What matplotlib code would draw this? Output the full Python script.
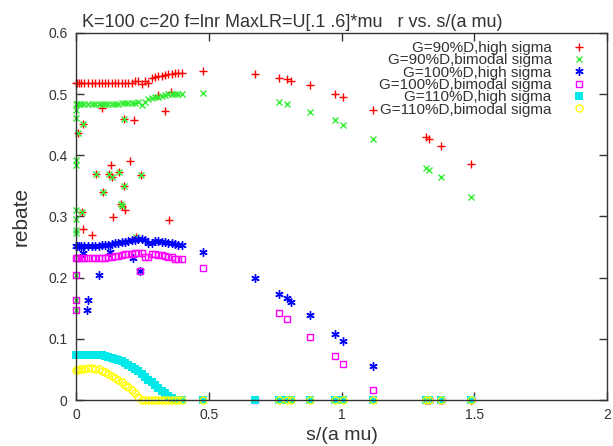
import numpy as np
import matplotlib
matplotlib.use("Agg")
import matplotlib.pyplot as plt

plt.rcParams['font.family'] = ['Liberation Sans', 'DejaVu Sans']

title = "K=100 c=20 f=lnr MaxLR=U[.1 .6]*mu   r vs. s/(a mu)"
labels = ["G=90%D,high sigma", "G=90%D,bimodal sigma", "G=100%D,high sigma",
          "G=100%D,bimodal sigma", "G=110%D,high sigma", "G=110%D,bimodal sigma"]

# dense band of s values
s_band = [0.0, 0.005, 0.01, 0.02, 0.03, 0.045, 0.06, 0.072, 0.085, 0.097, 0.11, 0.122,
          0.135, 0.147, 0.16, 0.172, 0.185, 0.197, 0.21, 0.222, 0.235, 0.248, 0.26, 0.273,
          0.285, 0.298, 0.31, 0.323, 0.335, 0.348, 0.36, 0.373, 0.385, 0.398]
red_band = [0.518, 0.518, 0.518, 0.518, 0.518, 0.518, 0.518, 0.518, 0.518, 0.518, 0.518, 0.518,
            0.518, 0.518, 0.518, 0.518, 0.518, 0.518, 0.518, 0.521, 0.522, 0.517, 0.522, 0.519,
            0.527, 0.528, 0.529, 0.530, 0.531, 0.533, 0.533, 0.534, 0.534, 0.535]
green_band = [0.484, 0.484, 0.484, 0.484, 0.484, 0.484, 0.484, 0.484, 0.484, 0.484, 0.484, 0.484,
              0.484, 0.484, 0.484, 0.485, 0.485, 0.485, 0.486, 0.486, 0.488, 0.483, 0.487, 0.492,
              0.494, 0.495, 0.496, 0.497, 0.498, 0.500, 0.500, 0.501, 0.501, 0.501]
blue_band = [0.251, 0.251, 0.251, 0.251, 0.251, 0.251, 0.252, 0.252, 0.252, 0.253, 0.253, 0.254,
             0.255, 0.256, 0.257, 0.258, 0.259, 0.260, 0.261, 0.262, 0.263, 0.263, 0.262, 0.257,
             0.256, 0.260, 0.260, 0.259, 0.258, 0.257, 0.256, 0.255, 0.254, 0.253]
mag_band = [0.232, 0.232, 0.232, 0.232, 0.232, 0.232, 0.232, 0.232, 0.232, 0.232, 0.232, 0.233,
            0.234, 0.235, 0.236, 0.237, 0.238, 0.238, 0.239, 0.240, 0.240, 0.240, 0.233, 0.233,
            0.238, 0.238, 0.237, 0.237, 0.235, 0.234, 0.233, 0.231, 0.230, 0.230]
cyan_band = [0.073, 0.073, 0.073, 0.073, 0.073, 0.073, 0.073, 0.073, 0.073, 0.073, 0.072, 0.071,
             0.069, 0.067, 0.065, 0.063, 0.060, 0.057, 0.054, 0.050, 0.047, 0.043, 0.038, 0.033,
             0.029, 0.024, 0.020, 0.015, 0.011, 0.007, 0.003, 0.0, 0.0, 0.0]
yel_band = [0.049, 0.049, 0.050, 0.050, 0.051, 0.052, 0.052, 0.051, 0.050, 0.048, 0.045, 0.042,
            0.039, 0.036, 0.033, 0.029, 0.025, 0.021, 0.016, 0.011, 0.005, 0.0, 0.0, 0.0,
            0.0, 0.0, 0.0, 0.0, 0.0, 0.0, 0.0, 0.0, 0.0, 0.0]

# sparse tail of s values
s_tail = [0.48, 0.675, 0.766, 0.796, 0.811, 0.883, 0.977, 1.007, 1.12, 1.317, 1.33, 1.374, 1.487]
red_tail = [0.538, 0.533, 0.527, 0.525, 0.522, 0.515, 0.500, 0.495, 0.474, 0.430, 0.426, 0.416, 0.386]
blue_tail = [0.242, 0.199, 0.173, 0.167, 0.160, 0.139, 0.108, 0.096, 0.055, 0.0, 0.0, 0.0, 0.0]
cyan_tail = [0.0, 0.0, 0.0, 0.0, 0.0, 0.0, 0.0, 0.0, 0.0, 0.0, 0.0, 0.0, 0.0]
s_tail_g = [0.48, 0.766, 0.796, 0.883, 0.977, 1.007, 1.12, 1.317, 1.33, 1.374, 1.487]
green_tail = [0.502, 0.487, 0.484, 0.471, 0.457, 0.450, 0.427, 0.380, 0.376, 0.365, 0.332]
s_tail_m = [0.48, 0.675, 0.766, 0.796, 0.883, 0.977, 1.007, 1.12, 1.317, 1.33, 1.374, 1.487]
mag_tail = [0.216, 0.0, 0.142, 0.132, 0.103, 0.072, 0.059, 0.016, 0.0, 0.0, 0.0, 0.0]
s_tail_y = [0.48, 0.766, 0.796, 0.811, 0.883, 0.977, 1.007, 1.12, 1.317, 1.33, 1.374, 1.487]
yel_tail = [0.0, 0.0, 0.0, 0.0, 0.0, 0.0, 0.0, 0.0, 0.0, 0.0, 0.0, 0.0]

# scattered low points near s=0
red_out_s = [0.009, 0.028, 0.097, 0.179, 0.219, 0.307, 0.334, 0.359, 0.131, 0.204, 0.075, 0.126,
             0.135, 0.161, 0.244, 0.181, 0.100, 0.169, 0.172, 0.186, 0.138, 0.352, 0.021, 0.028,
             0.062, 0.226]
red_out_r = [0.436, 0.452, 0.478, 0.460, 0.458, 0.498, 0.473, 0.504, 0.385, 0.390, 0.369, 0.369,
             0.365, 0.372, 0.368, 0.350, 0.340, 0.321, 0.317, 0.311, 0.299, 0.294, 0.308, 0.279,
             0.269, 0.267]
green_out_s = [0.009, 0.028, 0.179, 0.0, 0.0, 0.0, 0.0, 0.0, 0.0, 0.0, 0.0, 0.0, 0.0, 0.0,
               0.075, 0.126, 0.135, 0.161, 0.244, 0.181, 0.100, 0.169, 0.172, 0.021, 0.226]
green_out_r = [0.436, 0.452, 0.460, 0.474, 0.461, 0.392, 0.385, 0.311, 0.296, 0.278, 0.273,
               0.204, 0.163, 0.147, 0.369, 0.369, 0.365, 0.372, 0.368, 0.350, 0.340, 0.321,
               0.317, 0.308, 0.267]
blue_out_s = [0.025, 0.047, 0.043, 0.088, 0.128, 0.214, 0.242]
blue_out_r = [0.241, 0.163, 0.147, 0.204, 0.242, 0.232, 0.211]
mag_out_s = [0.0, 0.0, 0.0, 0.242]
mag_out_r = [0.204, 0.163, 0.147, 0.211]

fig = plt.figure(figsize=(6.13, 4.46), dpi=100)
ax = fig.add_axes([76 / 613, 1 - 400 / 446, 531 / 613, 367 / 446])

red, green, blue = '#ff0000', '#33ee33', '#0000ff'
mag, cyan, yel = '#ff00ff', '#00e8e8', '#ffff00'
ms = 6

def pts(xs, ys):
    return np.array(xs, dtype=float), np.array(ys, dtype=float)

x, y = pts(s_band + s_tail + red_out_s, red_band + red_tail + red_out_r)
ax.plot(x, y, ls='none', marker='+', ms=ms, mew=1.0, color=red, label=labels[0], clip_on=False)
x, y = pts(s_band + s_tail_g + green_out_s, green_band + green_tail + green_out_r)
ax.plot(x, y, ls='none', marker='x', ms=ms - 1, mew=1.0, color=green, label=labels[1], clip_on=False)
x, y = pts(s_band + s_tail + blue_out_s, blue_band + blue_tail + blue_out_r)
ax.plot(x, y, ls='none', marker=(6, 2, 0), ms=ms, mew=1.0, color=blue, label=labels[2], clip_on=False)
x, y = pts(s_band + s_tail_m + mag_out_s, mag_band + mag_tail + mag_out_r)
ax.plot(x, y, ls='none', marker='s', ms=5, mew=1.0, mfc='none', color=mag, label=labels[3], clip_on=False)
x, y = pts(s_band + s_tail, cyan_band + cyan_tail)
ax.plot(x, y, ls='none', marker='s', ms=5.5, mew=0, color=cyan, label=labels[4], clip_on=False)
x, y = pts(s_band + s_tail_y, yel_band + yel_tail)
ax.plot(x, y, ls='none', marker='o', ms=5, mew=1.0, mfc='none', color=yel, label=labels[5], clip_on=False)

ax.set_xlim(0, 2)
ax.set_ylim(0, 0.6)
ax.set_xticks([0, 0.5, 1, 1.5, 2])
ax.set_xticklabels(['0', '0.5', '1', '1.5', '2'])
ax.set_yticks([0, 0.1, 0.2, 0.3, 0.4, 0.5, 0.6])
ax.set_yticklabels(['0', '0.1', '0.2', '0.3', '0.4', '0.5', '0.6'])
ax.tick_params(direction='in', length=6, width=1, top=True, right=True,
               labelsize=10, colors='#333333', labelcolor='#333333', pad=6)
for sp in ax.spines.values():
    sp.set_color('#333333')
    sp.set_linewidth(1)

ax.set_ylabel('rebate', fontsize=15, color='#333333', labelpad=13)
ax.set_xlabel('s/(a mu)', fontsize=14, color='#333333', labelpad=3)
fig.text(292 / 613, 1 - 27 / 446, title, ha='center', va='baseline', fontsize=13, color='#333333')

leg = ax.legend(loc='upper right', bbox_to_anchor=(0.962, 0.978), borderaxespad=0, borderpad=0,
                markerfirst=False, frameon=False, fontsize=11, labelspacing=-0.11,
                handlelength=1.0, handletextpad=1.3)
for t in leg.get_texts():
    t.set_color('#333333')

fig.savefig('out.png', dpi=100)
